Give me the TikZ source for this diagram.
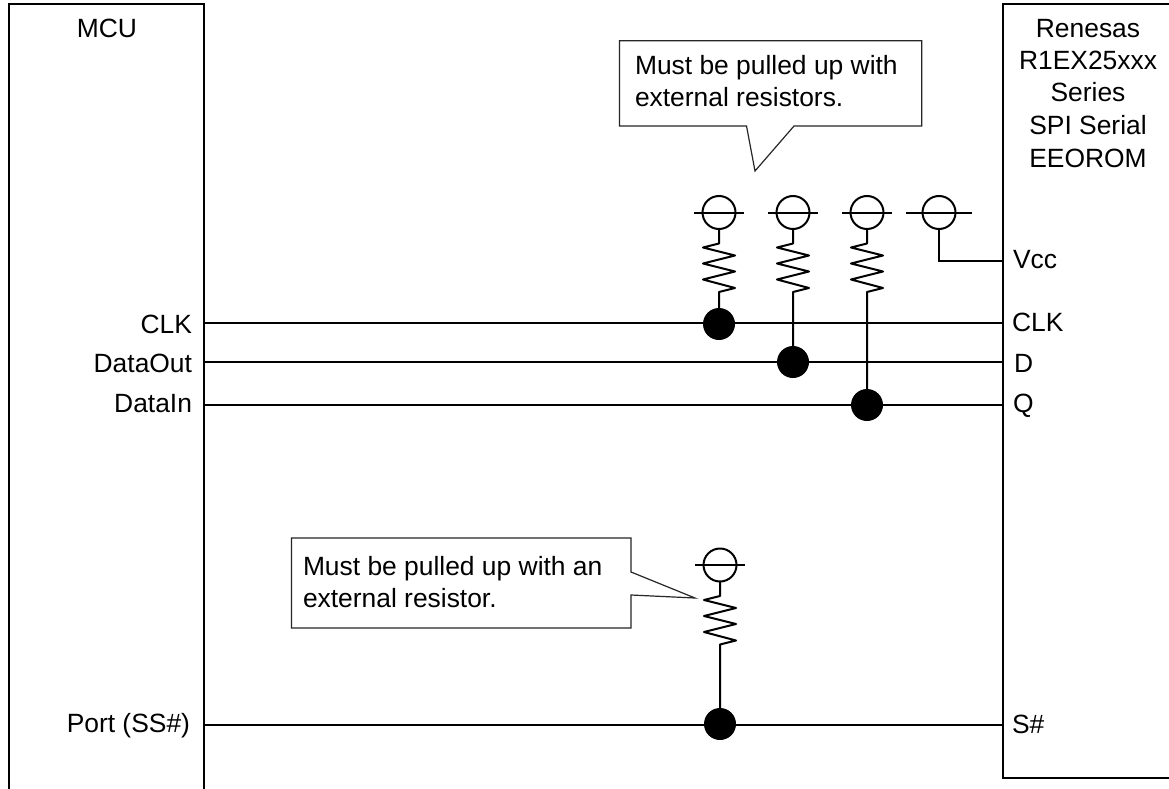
\documentclass[tikz,border=0pt]{standalone}
\usepackage{fontspec}
\setmainfont{Liberation Sans}
\newcommand{\zigpath}{-- ++(0,14.5) -- ++(-16,4) -- ++(32,8) -- ++(-32,8) -- ++(32,8) -- ++(-32,8) -- ++(32,8.5) -- ++(-16,4)}
\tikzset{
  x=1pt,y=-1pt,
  wire/.style={line width=2pt,black},
  lbl/.style={inner sep=0pt,outer sep=0pt,font=\fontsize{26.4}{32}\selectfont},
  lblL/.style={lbl,anchor=base west},
  lblR/.style={lbl,anchor=base east},
  lblC/.style={lbl,anchor=base},
  supply/.style={circle,draw,line width=2pt,fill=white,minimum size=33pt,inner sep=0pt,outer sep=0pt},
  junction/.style={circle,fill=black,minimum size=32pt,inner sep=0pt,outer sep=0pt},
  callout/.style={line width=1.2pt,draw=black!85,fill=white,line join=miter},
}
\begin{document}
\begin{tikzpicture}
\useasboundingbox (0,0) rectangle (1169,789);
\fill[white] (0,0) rectangle (1169,789);

% IC outlines (cut off by the picture's edge)
\draw[wire] (8.5,789) |- (204,4.5) -- (204,789);
\draw[wire] (1169,4.5) -| (1003,778) -- (1169,778);

% pins
\coordinate (mclk) at (204,322.5);
\coordinate (mout) at (204,362);
\coordinate (min)  at (204,404.5);
\coordinate (mss)  at (204,724.5);
\coordinate (rvcc) at (1003,261);
\coordinate (rclk) at (1003,322.5);
\coordinate (rd)   at (1003,362);
\coordinate (rq)   at (1003,404.5);
\coordinate (rs)   at (1003,724.5);

% signal wires
\draw[wire] (mclk) -- (rclk);
\draw[wire] (mout) -- (rd);
\draw[wire] (min) -- (rq);
\draw[wire] (mss) -- (rs);

% supplies
\node[supply] (s1) at (719,212.5) {};
\node[supply] (s2) at (793,212.5) {};
\node[supply] (s3) at (867,212.5) {};
\node[supply] (s4) at (939,212.5) {};
\node[supply] (s5) at (720,565) {};

% junctions
\node[junction] (d1) at (719,324) {};
\node[junction] (d2) at (793,362) {};
\node[junction] (d3) at (867,405) {};
\node[junction] (d5) at (720,724) {};

% pull-ups
\draw[wire,line join=round] (s1.south) \zigpath -- (d1.center);
\draw[wire,line join=round] (s2.south) \zigpath -- (d2.center);
\draw[wire,line join=round] (s3.south) \zigpath -- (d3.center);
\draw[wire,line join=round] (s5.south) \zigpath -- (d5.center);
\draw[wire] (s4.south) |- (rvcc);

% supply bars
\draw[wire] ([xshift=-25pt]s1.center) -- ([xshift=25pt]s1.center);
\draw[wire] ([xshift=-25pt]s2.center) -- ([xshift=25pt]s2.center);
\draw[wire] ([xshift=-25pt]s3.center) -- ([xshift=25pt]s3.center);
\draw[wire] ([xshift=-33pt]s4.center) -- ([xshift=33pt]s4.center);
\draw[wire] ([xshift=-25pt]s5.center) -- ([xshift=25pt]s5.center);

% callouts
\draw[callout] (619.5,40.7) -- (921.7,40.7) -- (921.7,126) -- (794,126) -- (755,171) -- (746.5,126) -- (619.5,126) -- cycle;
\draw[callout] (291.5,538) -- (631,538) -- (631,572) -- (695,598) -- (631,595) -- (631,628) -- (291.5,628) -- cycle;
\node[lblL] (c1a) at (635,75) {Must be pulled up with};
\node[lblL] (c1b) at (635,107) {external resistors.};
\node[lblL] (c2a) at (303,575) {Must be pulled up with an};
\node[lblL] (c2b) at (303,607) {external resistor.};

% left labels
\node[lblC] (tmcu) at (107,38) {MCU};
\node[lblR] (tclk) at (192,333) {CLK};
\node[lblR] (tout) at (192,372) {DataOut};
\node[lblR] (tin)  at (192,412) {DataIn};
\node[lblR] (tss)  at (190,732) {Port (SS\#)};

% right labels
\node[lblC] (r1) at (1088,38) {Renesas};
\node[lblC] (r2) at (1088,70) {R1EX25xxx};
\node[lblC] (r3) at (1088,102) {Series};
\node[lblC] (r4) at (1088,135) {SPI Serial};
\node[lblC] (r5) at (1088,167) {EEOROM};
\node[lblL] (tvcc) at (1013,268) {Vcc};
\node[lblL] (tc) at (1012,331) {CLK};
\node[lblL] (td) at (1014,372) {D};
\node[lblL] (tq) at (1013,412) {Q};
\node[lblL] (ts) at (1012,733) {S\#};
\end{tikzpicture}
\end{document}
